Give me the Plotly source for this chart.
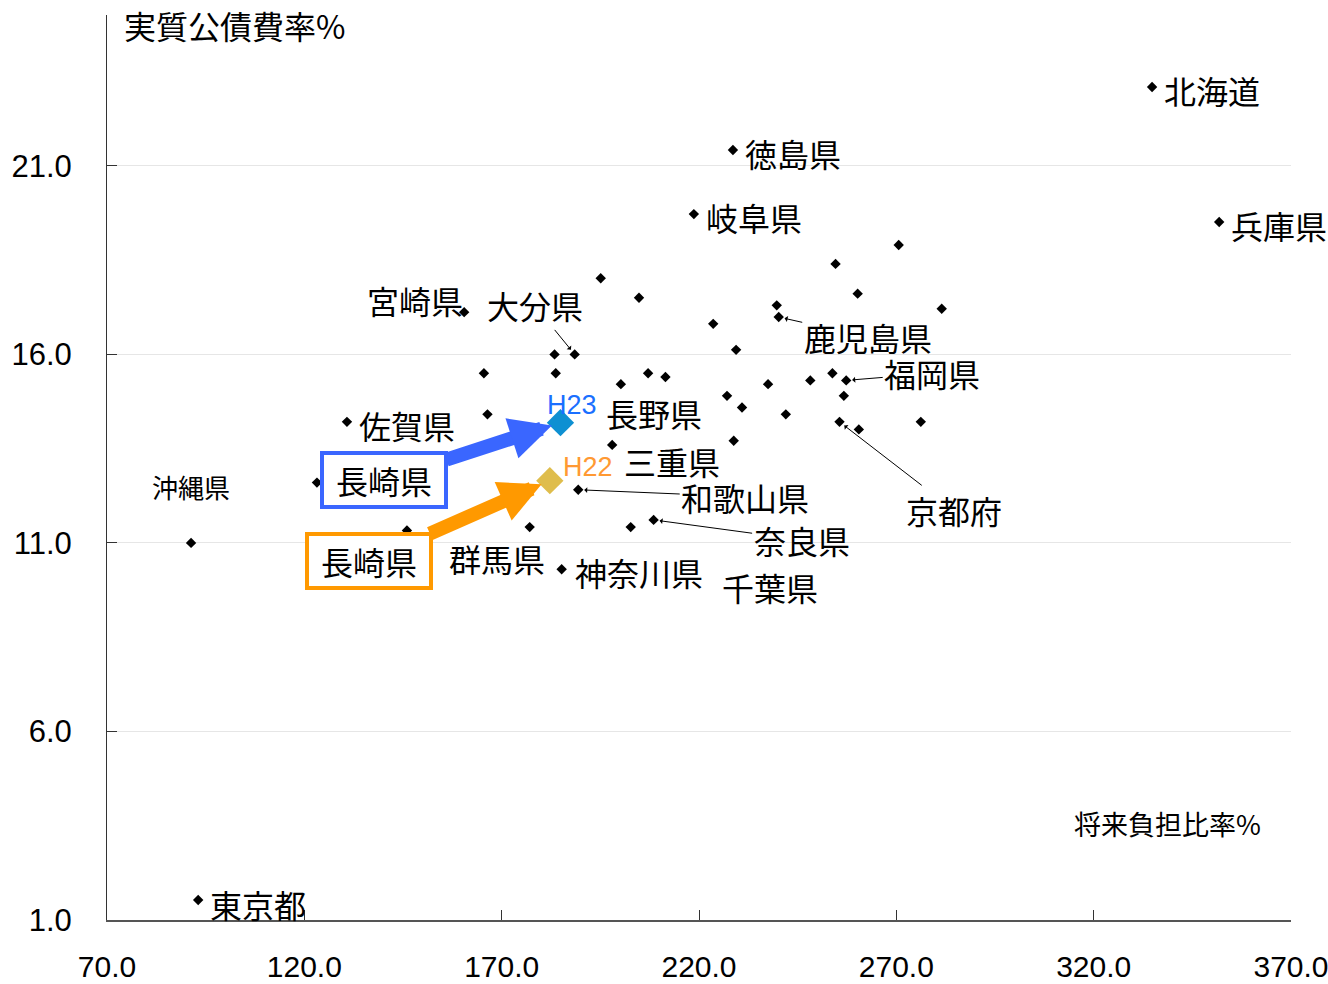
import plotly.graph_objects as go

# ---------------- data ----------------
pref_names = [
    "北海道", "徳島県", "岐阜県", "兵庫県", "", "", "", "", "", "",
    "宮崎県", "", "鹿児島県", "", "", "", "大分県", "", "", "長野県",
    "", "", "", "", "", "福岡県", "", "", "", "",
    "", "佐賀県", "京都府", "", "", "", "三重県", "", "沖縄県", "",
    "群馬県", "和歌山県", "千葉県", "奈良県", "神奈川県", "東京都",
]
future_burden = [
    334.8, 228.6, 218.7, 351.8, 270.6, 254.6, 195.1, 204.8, 260.2, 281.5,
    160.5, 239.7, 240.2, 223.6, 229.4, 183.4, 188.5, 183.7, 165.5, 200.2,
    207.1, 211.5, 237.5, 248.2, 253.8, 257.3, 227.1, 230.9, 256.7, 166.4,
    242.0, 130.8, 255.6, 260.5, 276.2, 228.8, 198.0, 123.2, 91.3, 146.0,
    177.1, 189.4, 202.7, 208.5, 185.2, 93.1,
]
debt_ratio = [
    23.09, 21.42, 19.72, 19.51, 18.90, 18.40, 18.02, 17.50, 17.61, 17.21,
    17.12, 17.30, 16.99, 16.81, 16.12, 16.00, 16.00, 15.50, 15.50, 15.21,
    15.50, 15.40, 15.21, 15.31, 15.50, 15.31, 14.90, 14.59, 14.90, 14.41,
    14.41, 14.21, 14.21, 14.01, 14.21, 13.71, 13.60, 12.60, 11.00, 11.33,
    11.42, 12.41, 11.42, 11.61, 10.30, 1.53,
]
nagasaki_name = "長崎県"
nagasaki_years = ["H23", "H22"]
nagasaki_x = [184.9, 182.2]
nagasaki_y = [14.19, 12.65]

x_ticks = [70, 120, 170, 220, 270, 320, 370]
x_tick_labels = ["70.0", "120.0", "170.0", "220.0", "270.0", "320.0", "370.0"]
y_ticks = [1, 6, 11, 16, 21]
y_tick_labels = ["1.0", "6.0", "11.0", "16.0", "21.0"]
y_title = "実質公債費率%"
x_title = "将来負担比率%"

# ---------------- styles ----------------
JP = "Noto Sans CJK JP"
AR = "Liberation Sans, Arial"
# label offsets (pixels, text centre relative to the point), leader flag
label_style = {
    "北海道": (60, 3, False), "徳島県": (60, 3, False), "岐阜県": (60, 3, False),
    "兵庫県": (60, 3, False), "宮崎県": (-49, -12, False), "大分県": (-40, -49, True),
    "鹿児島県": (89, 20, True), "福岡県": (86, -7, True), "佐賀県": (60, 3, False),
    "長野県": (33, 29, False), "三重県": (60, 16, False), "和歌山県": (167, 7, True),
    "京都府": (114, 88, True), "奈良県": (148, 20, True), "群馬県": (-33, 31, False),
    "神奈川県": (77, 3, False), "千葉県": (139, 60, False), "東京都": (60, 4, False),
    "沖縄県": (0, -56, False),
}
small_labels = {"沖縄県"}

fig = go.Figure()
fig.add_trace(go.Scatter(
    x=future_burden, y=debt_ratio, mode="markers",
    marker=dict(symbol="diamond", size=8, color="black"),
    hoverinfo="skip", showlegend=False,
))
fig.add_trace(go.Scatter(
    x=nagasaki_x, y=nagasaki_y, mode="markers",
    marker=dict(symbol="diamond", size=21, color=["#0e90d2", "#dfbd4c"]),
    hoverinfo="skip", showlegend=False,
))

annotations = []
for name, xv, yv in zip(pref_names, future_burden, debt_ratio):
    if not name:
        continue
    dx, dy, leader = label_style[name]
    size = 26 if name in small_labels else 32
    if leader:
        annotations.append(dict(
            x=xv, y=yv, text=name, showarrow=True, ax=dx, ay=dy,
            arrowhead=1, arrowsize=1, arrowwidth=1, arrowcolor="black",
            standoff=6, font=dict(family=JP, size=size, color="black"),
        ))
    else:
        annotations.append(dict(
            x=xv, y=yv, text=name, showarrow=False, xshift=dx, yshift=-dy,
            xanchor="center", yanchor="middle",
            font=dict(family=JP, size=size, color="black"),
        ))

# Nagasaki boxes with arrows
box_style = [
    dict(color="#3a66ff", ax=-176, ay=57),
    dict(color="#ff9900", ax=-181, ay=80),
]
for xv, yv, st in zip(nagasaki_x, nagasaki_y, box_style):
    annotations.append(dict(
        x=xv, y=yv, text=nagasaki_name, showarrow=True,
        ax=st["ax"], ay=st["ay"], arrowhead=2, arrowsize=0.6, arrowwidth=14,
        arrowcolor=st["color"], standoff=9,
        bordercolor=st["color"], borderwidth=4, borderpad=1, bgcolor="white",
        width=118, height=48,
        font=dict(family=JP, size=32, color="black"),
    ))

# year labels
year_style = [
    dict(color="#1a6fff", dx=12, dy=-18),
    dict(color="#ff9933", dx=38, dy=-14),
]
for yr, xv, yv, st in zip(nagasaki_years, nagasaki_x, nagasaki_y, year_style):
    annotations.append(dict(
        x=xv, y=yv, text=yr, showarrow=False, xshift=st["dx"], yshift=-st["dy"],
        xanchor="center", yanchor="middle",
        font=dict(family=AR, size=27, color=st["color"]),
    ))

# axis titles
annotations.append(dict(
    xref="paper", yref="paper", x=0.0127, y=0.989, text=y_title, showarrow=False,
    xanchor="left", yanchor="middle", font=dict(family=JP, size=32, color="black"),
))
annotations.append(dict(
    xref="paper", yref="paper", x=0.815, y=0.107, text=x_title, showarrow=False,
    xanchor="left", yanchor="middle", font=dict(family=JP, size=27, color="black"),
))

fig.update_layout(
    width=1328, height=984,
    margin=dict(l=107, r=37, t=15, b=64, autoexpand=False),
    plot_bgcolor="white", paper_bgcolor="white",
    annotations=annotations,
    xaxis=dict(
        range=[70, 370], tickvals=x_ticks, ticktext=x_tick_labels,
        showgrid=False, zeroline=False,
        showline=True, linecolor="#555555", linewidth=2,
        ticks="inside", ticklen=10, tickcolor="#333333", tickwidth=1,
        ticklabelstandoff=19, ticklabeloverflow="allow",
        tickfont=dict(family=AR, size=30, color="black"),
    ),
    yaxis=dict(
        range=[1, 25], tickvals=y_ticks, ticktext=y_tick_labels,
        showgrid=True, gridcolor="#e6e6e6", gridwidth=1, zeroline=False,
        showline=True, linecolor="#333333", linewidth=1,
        ticks="inside", ticklen=10, tickcolor="#333333", tickwidth=1,
        ticklabelstandoff=28,
        tickfont=dict(family=AR, size=31, color="black"),
    ),
)

fig.write_html(
    "out.html",
    config={"displayModeBar": False},
    post_script="document.body.style.margin='0px';document.body.style.overflow='hidden';",
)
